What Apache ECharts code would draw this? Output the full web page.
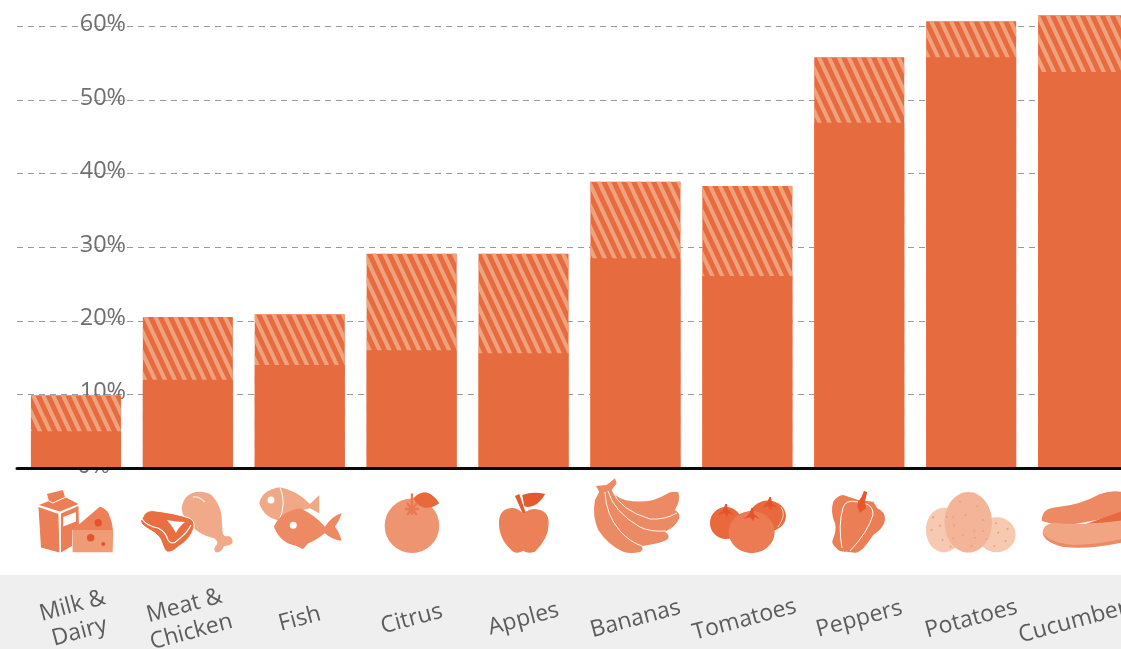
<!DOCTYPE html>
<html><head><meta charset="utf-8">
<style>html,body{margin:0;padding:0;background:#fff;overflow:hidden}#c{width:1121px;height:649px}</style>
<script src="https://cdn.jsdelivr.net/npm/echarts@6/dist/echarts.min.js"></script>
</head><body><div id="c"></div>
<script>
const categories = ['Milk &\nDairy','Meat &\nChicken','Fish','Citrus','Apples','Bananas','Tomatoes','Peppers','Potatoes','Cucumbers'];
const solidValues = [5.0,12.0,14.0,16.0,15.6,28.5,26.1,46.9,55.8,53.8];
const totalValues = [9.9,20.5,20.9,29.1,29.1,38.9,38.3,55.8,60.7,61.5];
const yTicks = [0,10,20,30,40,50,60];

const BAR='#e66c3f', STRIPE='#f0a27e', FONT='"Open Sans",sans-serif';
const labelNudge={Tomatoes:6,Cucumbers:10};

// speckles on the potatoes (decoration only)
const speck=[[580,172],[600,197],[575,210],[608,240],[632,260],[620,170],[660,125],[712,138],[677,165],[730,180],[640,172],[642,196],[703,212],[730,213],[670,225],[705,233],[740,238],[640,235],[695,258],[768,190],[803,207],[775,218],[797,243],[763,258]]
  .map(p=>({c:[740+p[0]/3,460+p[1]/3,1],fill:'#ee9e7e'}));
const star=(x,y,f)=>({d:`M${x-8} ${y+3} L${x-3} ${y-2} L${x-0.5} ${y-8} L${x+1} ${y-8} L${x+2} ${y-2} L${x+8} ${y+3} L${x+3} ${y+1} L${x+1} ${y+5} L${x-2} ${y+1} Z`,fill:f});

const iconShapes=[
 [ // milk & cheese
  {d:'M38.5 507 L58.5 514 L59.5 552.5 L41 547.5 Z',fill:'#ec7e55'},
  {d:'M61 513.5 L78.5 506 L79 526 L72.5 530 L72 546 L61 552.5 Z',fill:'#ec7e55'},
  {d:'M47 494 L63 490 L65 497 L78.5 504 L60 511.5 L39 505 L49 501 Z',fill:'#ec7e55'},
  {s:'M49 501 L53 503 L66 497',w:1},
  {d:'M63.3 517 L76 512 L76 521.5 L63.3 526.5 Z',fill:'#fff'},
  {d:'M72.7 530 L100 506.7 Q106 509 108.3 513 Q113 523 113.3 533 L112.7 552.3 L72.7 552.3 Z',fill:'#ee9b76'},
  {d:'M72.7 530 L100 506.7 Q106 509 108.3 513 Q112 522 112.5 530 Z',fill:'#ec8059'},
  {c:[98.3,522.7,3.7],fill:'#e5532d'},{c:[90.7,537.7,3.7],fill:'#e5532d'},{c:[103.3,544,2],fill:'#e5532d'}
 ],
 [ // meat & chicken
  {d:'M181.7 508 Q184 492 200 491.7 Q210 492 213 496.7 Q221 506 221.7 516.7 L222.7 533 Q224 537 228 536 Q233 537 232.7 542.7 Q230 546 224 546 Q222 552 217 552.5 Q213 551 215 546.7 Q218 544 217.3 541.7 Q215 538 213 538 Q198 534 193 526.7 Q182 518 181.7 508 Z',fill:'#f1aa89'},
  {s:'M193 497 Q199 496 205 502',w:1.4,color:'#fbe3d6'},
  {d:'M143 517 Q145 511 152 510.5 Q175 513 189 518 Q195 520 194 528 Q190 540 178 547 Q172 553 167 552 Q164 550 162 543 Q160 535 150 530 Q141 525 140.5 521 Z',fill:'#e96f43',stroke:'#fff'},
  {s:'M142 519 Q147 526 158 528 Q166 532 168 540 Q172 546 178 540 Q188 532 191 525',w:1.2},
  {d:'M167 520 Q175 522 185 522 Q178 528 176 533 Q173 527 167 520 Z',fill:'#fff'}
 ],
 [ // fish
  {d:'M259.3 503.3 Q262 490 280 487.3 Q296 490 310 504 L319.3 495 L319.3 513.3 L310 508.3 Q292 512 280 520.7 Q264 518 259.3 503.3 Z',fill:'#f1a886'},
  {s:'M280 487.3 Q287 503 279 521',w:1},
  {c:[271,500,3.5],fill:'#fff'},
  {d:'M274 526.7 Q280 512 300 508.3 Q315 515 325 526.7 Q332 516 341.7 513.3 Q340 520 335 526.7 Q340 533 341.7 540.7 Q332 540 325 533.3 Q315 541 308.3 543.3 L303 549.3 L296.7 546 Q280 543 274 526.7 Z',fill:'#ee8a63'},
  {c:[293.3,525.3,3.5],fill:'#fff'}
 ],
 [ // citrus
  {c:[412,525.7,27.3],fill:'#ee9470'},
  {s:'M412 493.5 L412 515 M405 509 L419 509 M407 503 L417 515 M417 503 L407 515',w:2.4,color:'#e87a52'},
  {d:'M413.3 498.3 Q419 492.5 425 492.3 Q433 493 439.3 503.3 Q432 508.5 425 507.7 Q418 507 413.3 498.3 Z',fill:'#e8693c'}
 ],
 [ // apple
  {d:'M523.3 513.3 Q516 507 510 508.3 Q499 510 499 523 Q499 540 513.3 551.7 Q518 554 523.3 550.7 Q528 554 535 551.7 Q549 538 548.7 523.3 Q549 510 535 509 Q529 509 523.3 513.3 Z',fill:'#ec8059'},
  {d:'M515 496 L519.3 494 L525.7 512.7 L522.7 513.3 Z',fill:'#e5592e'},
  {d:'M522.3 495 Q533 491 545.3 494 Q540 503 534 505.5 Q528 508 524.3 506 Z',fill:'#e5592e'}
 ],
 [ // bananas
  {d:'M596 486 L606.7 485 L615 478.3 L616.7 483.3 L611.7 490 Q615 497 625 500 Q640 503 653.3 500 Q662 497 670 492.3 Q676 491 678.3 492.3 Q681 500 675 510 Q681 514 679.3 518.3 Q676 527 665 531.7 Q670 535 668.3 538.3 Q665 543 641.7 546 Q644 550 640 552 Q630 554 623.3 551.7 Q608 545 598.3 530 Q592 516 595 500 L599.3 491.7 Z',fill:'#ec8a63'},
  {s:'M605 492 Q606 515 620 531 Q630 542 642 546',w:.9},
  {s:'M608 491 Q614 512 640 527 Q650 532 666 531',w:.9},
  {s:'M612.5 491 Q620 510 650 519 Q665 520 677 513',w:.9}
 ],
 [ // tomatoes
  {e:[768,516,18,15.5],fill:'#e9683c'},
  {s:'M781 507 Q787 515 778 527',w:.7},
  {e:[726,523,16,16],fill:'#e9693d'},
  {e:[751.7,532,23,21],fill:'#ec7a52'},
  star(770,505,'#e4532b'),star(726,512,'#e4532b'),star(752,516,'#e4532b')
 ],
 [ // pepper
  {d:'M833.3 501.7 Q838 495 843.3 495 L858.3 500 L873.3 501.7 L877.3 508.3 Q886 512 885 520 Q884 528 873.3 535 Q868 543 863.3 548.3 Q858 553 855 552.7 L846.7 551.7 Q838 552 836.7 548.3 Q831 544 832.7 540 Q837 530 835 523.3 Q830 512 833.3 501.7 Z',fill:'#ec7e55'},
  {s:'M858 502 Q845 499 843 508 Q838 525 842 548',w:1},
  {s:'M850 551 Q868 532 873 515 Q874 506 864 503',w:1},
  {d:'M858.3 501.7 L861.7 496.7 L864 490.7 L867.3 492.3 L865 501.7 L866 508.3 L860 512.7 L857.3 506.7 Z',fill:'#e7572e'}
 ],
 [ // potatoes
  {e:[944,530,18,22.3],fill:'#f6c9b0'},
  {e:[996.7,534.7,19,17.5],fill:'#f6c9b0'},
  {e:[968.3,522.3,23.7,30.3],fill:'#f3b498'},
  ...speck
 ],
 [ // cucumbers
  {d:'M1042 521 Q1041 508 1058 507 Q1080 505 1100 494 Q1112 490 1122 492 L1130 505 L1125 512 Q1105 520 1060 526 Z',fill:'#ed8a64'},
  {d:'M1086 524 L1125 510 L1125 522 Z',fill:'#e8693f'},
  {d:'M1042.7 533 Q1044 542 1063 547 Q1090 550 1125 542 L1125 530 Z',fill:'#ec8a63'},
  {d:'M1042.7 533 Q1043 523 1056 523 Q1085 526 1125 520 L1125 538 Q1105 544 1075 545 Q1050 543 1042.7 533 Z',fill:'#f2a583'}
 ]
];
const iconOrigins=[76,187.9,299.8,411.7,523.6,635.5,747.4,859.3,971.2,1083.1];

function toChild(p){
  if(p.c) return {type:'circle',shape:{cx:p.c[0],cy:p.c[1],r:p.c[2]},style:{fill:p.fill}};
  if(p.e) return {type:'ellipse',shape:{cx:p.e[0],cy:p.e[1],rx:p.e[2],ry:p.e[3]},style:{fill:p.fill}};
  if(p.s) return {type:'path',shape:{pathData:p.s},style:{fill:'none',stroke:p.color||'#fff',lineWidth:p.w}};
  return {type:'path',shape:{pathData:p.d},style:{fill:p.fill,stroke:p.stroke||null,lineWidth:p.stroke?1:0}};
}

const chart=echarts.init(document.getElementById('c'),null,{renderer:'canvas'});
chart.setOption({
  animation:false,
  backgroundColor:'#fff',
  graphic:[{type:'rect',z:-10,silent:true,shape:{x:0,y:575,width:1121,height:74},style:{fill:'#efefef'}}],
  grid:[
    {left:17,top:-47.2,width:1104,height:515.2,outerBoundsMode:'none'},
    {left:20,top:-47.2,width:1119,height:515.2,outerBoundsMode:'none'}
  ],
  xAxis:[
    {gridIndex:0,type:'value',min:0,max:1,z:5,splitLine:{show:false},axisTick:{show:false},axisLabel:{show:false},
     axisLine:{show:true,onZero:false,lineStyle:{color:'#0a0a0a',width:3}}},
    {gridIndex:1,type:'category',
     data:categories.map(c=>labelNudge[c]?{value:c,textStyle:{align:'center',verticalAlign:'middle',padding:[0,labelNudge[c],0,0]}}:c),
     axisLine:{show:false},axisTick:{show:false},
     axisLabel:{interval:0,rotate:15,margin:151,align:'center',verticalAlign:'middle',hideOverlap:false,
       fontFamily:FONT,fontSize:23,lineHeight:27,color:'#5c5c5c'}}
  ],
  yAxis:[
    {gridIndex:0,type:'value',min:0,max:70,interval:10,axisLine:{show:false},axisTick:{show:false},
     splitLine:{show:true,lineStyle:{color:'#9a9a9a',width:1,type:[6,5]}},
     axisLabel:{margin:-109,align:'right',verticalAlign:'middle',padding:[0,0,4,0],fontFamily:FONT,fontSize:23.5,color:'#6f6f6f',
       rich:{z:{padding:[0,16,0,0],fontFamily:FONT,fontSize:23.5,color:'#6f6f6f'}},
       formatter:v=>v===0?'{z|0%}':(yTicks.includes(v)?v+'%':'')}},
    {gridIndex:1,type:'value',min:0,max:70,interval:10,show:false,splitLine:{show:false}}
  ],
  series:[
    {type:'bar',xAxisIndex:1,yAxisIndex:1,barGap:'-100%',barWidth:90,data:totalValues,silent:true,z:2,
     itemStyle:{color:BAR,decal:{symbol:'rect',color:STRIPE,dashArrayX:[1,0],dashArrayY:[4,5],rotation:65*Math.PI/180}}},
    {type:'bar',xAxisIndex:1,yAxisIndex:1,barGap:'-100%',barWidth:90,data:solidValues,itemStyle:{color:BAR},silent:true,z:3},
    {type:'custom',xAxisIndex:1,yAxisIndex:1,silent:true,clip:false,z:3,
     data:categories.map((c,i)=>[i,0]),encode:{x:0,y:1},
     renderItem:(params,api)=>{
       const i=api.value(0), pt=api.coord([i,0]);
       return {type:'group',x:pt[0]-iconOrigins[i],y:pt[1]-468,children:iconShapes[i].map(toChild)};
     }}
  ]
});
</script></body></html>
